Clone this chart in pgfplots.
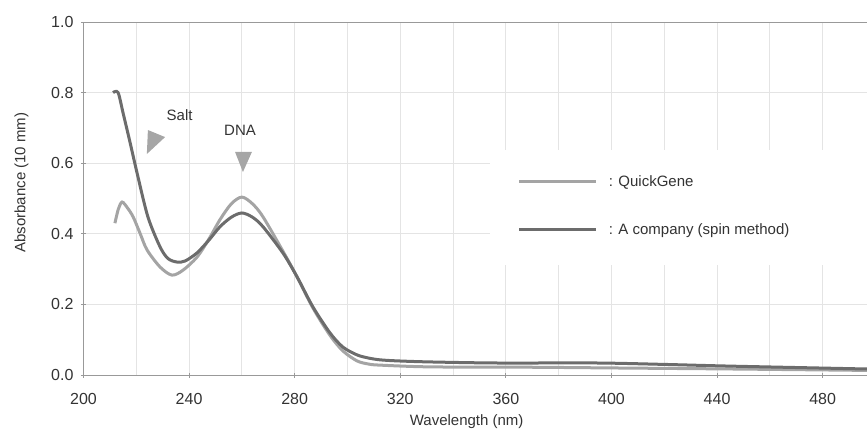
\documentclass[border=0pt]{standalone}
\usepackage{pgfplots}
\pgfplotsset{compat=1.18}
\usepackage{fontspec}
\setmainfont{Liberation Sans}
\definecolor{lightc}{HTML}{A4A4A4}
\definecolor{darkc}{HTML}{6C6C6C}
\definecolor{gridc}{HTML}{E4E4E4}
\definecolor{txt}{HTML}{333333}
\begin{document}
\begin{tikzpicture}
\begin{axis}[
  scale only axis,
  width=783.5pt, height=353pt,
  xmin=200, xmax=496.8, ymin=0, ymax=1,
  xtick={200,240,...,480},
  minor xtick={220,260,...,500},
  ytick={0,0.2,...,1.0},
  yticklabel style={/pgf/number format/fixed,/pgf/number format/precision=1,/pgf/number format/fixed zerofill, xshift=-4pt},
  /pgf/number format/assume math mode=true,
  xmajorgrids, xminorgrids, ymajorgrids,
  grid style={gridc, line width=0.8pt},
  minor grid style={gridc, line width=0.8pt},
  axis x line*=bottom, axis y line*=left,
  axis line style={color=gray!80, line width=0.9pt, -},
  major tick length=5pt, minor tick length=0pt,
  tick style={gray!80, line width=0.8pt},
  tick align=center,
  ticklabel style={font=\fontsize{16}{19}\selectfont, text=txt},
  xlabel={Wavelength (nm)},
  ylabel={Absorbance (10 mm)},
  every axis x label/.style={at={(axis description cs:0.489,-0.133)}, anchor=center, font=\fontsize{15}{18}\selectfont, text=txt},
  every axis y label/.style={at={(axis description cs:-0.0791,0.545)}, anchor=center, rotate=90, font=\fontsize{15}{18}\selectfont, text=txt},
  xticklabel style={yshift=-12pt},
  legend cell align=left,
  legend style={draw=none, fill=none, at={(rel axis cs:0.554,0.572)}, anchor=north west,
    inner sep=0pt, font=\fontsize{15}{18}\selectfont, text=txt, row sep=32pt},
  legend image code/.code={\draw[#1] (0pt,0pt) -- (77pt,0pt);},
]
\fill[white] (rel axis cs:0.519,0.312) rectangle (rel axis cs:1,0.637);
\draw[gray!80, line width=0.9pt] (rel axis cs:0,1) -- (rel axis cs:1,1);
\addplot[lightc, line width=3pt, smooth] coordinates {
(211.9,0.43) (213.2,0.47) (214.6,0.49) (216.5,0.475) (218.8,0.448) (221.5,0.40) (224.1,0.354)
(229.0,0.306) (233.5,0.283) (237.7,0.297) (243.0,0.334) (247.5,0.385) (251.7,0.44) (256,0.485)
(260.0,0.504) (264,0.485) (268.0,0.448) (275.6,0.35) (280.9,0.278) (286.9,0.19)
(293.4,0.112) (298.3,0.068) (303.6,0.040) (308,0.031) (312.3,0.028) (331.3,0.023)
(369.1,0.022) (400,0.020) (446,0.017) (496.8,0.013)
};
\addlegendentry{\hspace{9pt}: QuickGene}
\addplot[darkc, line width=3pt, smooth] coordinates {
(211.2,0.80) (213.1,0.80) (215.0,0.742) (217.6,0.66) (220.3,0.572) (224.4,0.448) (229.0,0.363)
(232,0.33) (235.4,0.32) (238.5,0.323) (243.0,0.346) (247.5,0.382) (251.7,0.42) (256,0.447)
(260.0,0.459) (264,0.447) (268.0,0.42) (275.6,0.345) (280.9,0.278) (286.9,0.193)
(293.4,0.119) (298.3,0.079) (303.6,0.057) (308,0.048) (312.3,0.043) (318.8,0.040)
(331.3,0.037) (356.6,0.034) (394.5,0.034) (420,0.030) (446,0.025) (496.8,0.017)
};
\addlegendentry{\hspace{9pt}: A company (spin method)}
\fill[gray!70] (axis cs:224.4,0.694) -- (axis cs:230.9,0.674) -- (axis cs:224.0,0.626) -- cycle;
\fill[gray!70] (axis cs:257.4,0.632) -- (axis cs:263.8,0.632) -- (axis cs:260.4,0.575) -- cycle;
\node[font=\fontsize{15}{18}\selectfont, text=txt] at (axis cs:236.4,0.735) {Salt};
\node[font=\fontsize{15}{18}\selectfont, text=txt] at (axis cs:259.3,0.694) {DNA};
\end{axis}
\pgfresetboundingbox
\useasboundingbox (-83.5pt,-64pt) rectangle (783.5pt,375pt);
\end{tikzpicture}
\end{document}
